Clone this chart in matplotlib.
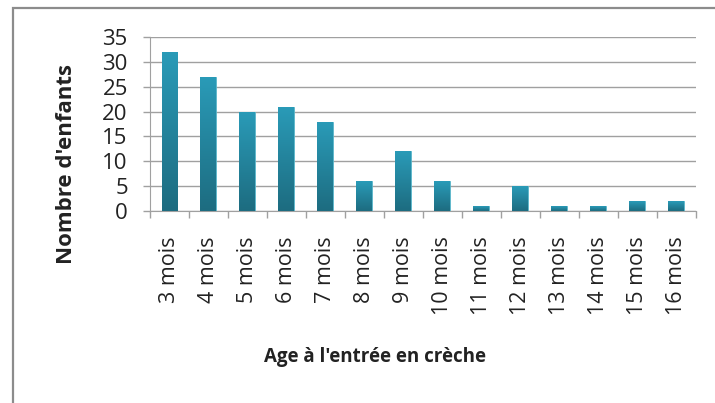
import numpy as np
import matplotlib.pyplot as plt
from matplotlib.patches import Rectangle
from matplotlib.colors import LinearSegmentedColormap

plt.rcParams['font.family'] = ['Open Sans', 'DejaVu Sans']

# data
categories = ['3 mois', '4 mois', '5 mois', '6 mois', '7 mois', '8 mois', '9 mois',
              '10 mois', '11 mois', '12 mois', '13 mois', '14 mois', '15 mois', '16 mois']
enfants = [32, 27, 20, 21, 18, 6, 12, 6, 1, 5, 1, 1, 2, 2]
y_ticks = [0, 5, 10, 15, 20, 25, 30, 35]

fig = plt.figure(figsize=(7.15, 4.03), dpi=100)
ax = fig.add_axes([0.2098, 0.4764, 0.7632, 0.4318])

# outer chart frame (cut at right and bottom like the screenshot)
fig.patches.append(Rectangle((12.5 / 715, -0.1), 1.2, 1 - 7.5 / 403 + 0.1,
                             transform=fig.transFigure, fill=False,
                             edgecolor='#8c8c8c', linewidth=1.6, zorder=0))

x = np.arange(len(categories))
bars = ax.bar(x, enfants, width=0.41, color='#238aa2', zorder=3,
              edgecolor='#5bb8cc', linewidth=0.6)

# vertical gradient inside each bar
cmap = LinearSegmentedColormap.from_list('g', ['#1d6c80', '#2a9bb8'])
grad = np.linspace(0, 1, 256).reshape(-1, 1)
for b in bars:
    x0, w, h = b.get_x(), b.get_width(), b.get_height()
    im = ax.imshow(grad, cmap=cmap, aspect='auto', origin='lower',
                   extent=(x0, x0 + w, 0, h), zorder=3.5)
    im.set_clip_path(b)

ax.set_xlim(-0.5, len(categories) - 0.5)
ax.set_ylim(0, 35)
ax.set_yticks(y_ticks)
ax.set_yticklabels([str(v) for v in y_ticks], fontsize=16, color='#222222')
ax.yaxis.grid(True, color='#a0a0a0', linewidth=1.0, zorder=0)
ax.set_axisbelow(True)

# ticks at category boundaries, labels at centres
ax.set_xticks(np.arange(-0.5, len(categories), 1))
ax.set_xticklabels([])
ax.set_xticks(x, minor=True)
ax.set_xticklabels(categories, minor=True, rotation=90, fontsize=15.5,
                   color='#222222', va='top', ha='center')
ax.tick_params(axis='x', which='major', length=5, color='#a0a0a0', width=1)
ax.tick_params(axis='x', which='minor', length=0, pad=18)
ax.tick_params(axis='y', length=5, color='#a0a0a0', width=1, pad=11)

for s in ['top', 'right']:
    ax.spines[s].set_visible(False)
for s in ['left', 'bottom']:
    ax.spines[s].set_color('#a0a0a0')

fig.text(66 / 715, 1 - 164 / 403, "Nombre d'enfants", rotation=90, fontsize=16,
         fontweight='bold', ha='center', va='center', color='#222222')
fig.text(375 / 715, 1 - 357 / 403, "Age à l'entrée en crèche", fontsize=13.5,
         fontweight='bold', ha='center', va='center', color='#222222')

fig.savefig('out.png', dpi=100)
